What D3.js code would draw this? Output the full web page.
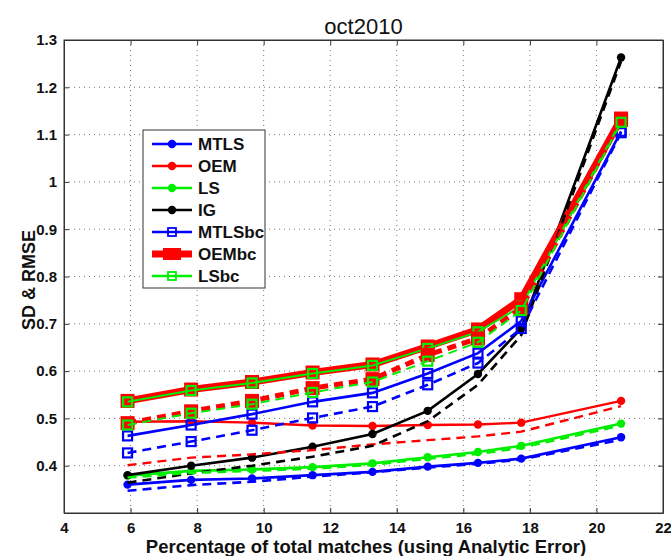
<!DOCTYPE html>
<html>
<head>
<meta charset="utf-8">
<script src="https://cdn.jsdelivr.net/npm/d3@7"></script>
<style>
  body { margin: 0; background: #fff; }
  svg text { font-family: "Liberation Sans", Arial, Helvetica, sans-serif; }
</style>
</head>
<body>
<div id="chart"></div>
<script>
// x positions (percentage of total matches)
const xPct = [5.91, 7.82, 9.65, 11.47, 13.27, 14.93, 16.44, 17.74, 20.74];

// SD (solid lines)
const mtls   = [0.360, 0.370, 0.373, 0.380, 0.387, 0.398, 0.406, 0.415, 0.460];
const oem    = [0.493, 0.494, 0.491, 0.485, 0.484, 0.486, 0.487, 0.491, 0.537];
const ls     = [0.379, 0.389, 0.392, 0.397, 0.405, 0.418, 0.429, 0.442, 0.489];
const ig     = [0.380, 0.400, 0.417, 0.440, 0.467, 0.516, 0.594, 0.690, 1.263];
const mtlsbc = [0.463, 0.486, 0.509, 0.535, 0.554, 0.595, 0.638, 0.706, 1.107];
const oembc  = [0.537, 0.561, 0.577, 0.597, 0.614, 0.652, 0.688, 0.752, 1.134];
const lsbc   = [0.535, 0.559, 0.575, 0.595, 0.612, 0.648, 0.683, 0.737, 1.129];

// RMSE (dashed lines)
const mtlsR   = [0.347, 0.359, 0.366, 0.377, 0.386, 0.396, 0.404, 0.413, 0.455];
const oemR    = [0.401, 0.417, 0.424, 0.433, 0.445, 0.454, 0.462, 0.472, 0.526];
const lsR     = [0.375, 0.385, 0.389, 0.394, 0.402, 0.415, 0.425, 0.438, 0.485];
const igR     = [0.364, 0.384, 0.400, 0.419, 0.442, 0.494, 0.571, 0.676, 1.255];
const mtlsbcR = [0.427, 0.451, 0.475, 0.501, 0.525, 0.571, 0.617, 0.690, 1.104];
const oembcR  = [0.490, 0.515, 0.537, 0.564, 0.583, 0.634, 0.669, 0.733, 1.131];
const lsbcR   = [0.486, 0.511, 0.530, 0.555, 0.577, 0.621, 0.661, 0.728, 1.126];

const xTicks = [4, 6, 8, 10, 12, 14, 16, 18, 20, 22];
const yTicks = [0.4, 0.5, 0.6, 0.7, 0.8, 0.9, 1, 1.1, 1.2, 1.3];
const legendNames = ["MTLS", "OEM", "LS", "IG", "MTLSbc", "OEMbc", "LSbc"];

// styles per series: colour, line width, marker
const styles = {
  MTLS:   {c: "#0000ff", w: 2.6, m: "circle"},
  OEM:    {c: "#ff0000", w: 2.4, m: "circle"},
  LS:     {c: "#00ee00", w: 2.6, m: "circle"},
  IG:     {c: "#000000", w: 2.6, m: "circle"},
  MTLSbc: {c: "#0000ff", w: 2.6, m: "square"},
  OEMbc:  {c: "#ff0000", w: 7,   m: "bigsquare"},
  LSbc:   {c: "#00ee00", w: 2,   m: "square"}
};

const solid = [["MTLS", mtls], ["OEM", oem], ["LS", ls], ["IG", ig],
               ["MTLSbc", mtlsbc], ["OEMbc", oembc], ["LSbc", lsbc]];
const dashed = [["OEM", oemR], ["IG", igR], ["MTLS", mtlsR], ["LS", lsR],
                ["MTLSbc", mtlsbcR], ["OEMbc", oembcR], ["LSbc", lsbcR]];

const W = 671, H = 556;
const margin = {top: 40, right: 8, bottom: 43, left: 64},
    width = W - margin.left - margin.right,
    height = H - margin.top - margin.bottom;

const svg = d3.select("#chart").append("svg")
    .attr("width", W).attr("height", H);
const g = svg.append("g")
    .attr("transform", `translate(${margin.left},${margin.top})`);

const x = d3.scaleLinear().domain([4, 22]).range([0, width]);
const y = d3.scaleLinear().domain([0.3, 1.3]).range([height, 0]);

// dotted grid
g.append("g").selectAll("line").data(xTicks.slice(1, -1)).join("line")
    .attr("x1", d => x(d)).attr("x2", d => x(d))
    .attr("y1", 0).attr("y2", height)
    .attr("stroke", "#777").attr("stroke-width", 1).attr("stroke-dasharray", "1,4");
g.append("g").selectAll("line").data(yTicks.slice(0, -1)).join("line")
    .attr("x1", 0).attr("x2", width)
    .attr("y1", d => y(d)).attr("y2", d => y(d))
    .attr("stroke", "#777").attr("stroke-width", 1).attr("stroke-dasharray", "1,4");

// axes (inward ticks on all four sides)
g.append("g").attr("transform", `translate(0,${height})`)
    .call(d3.axisBottom(x).tickValues(xTicks).tickSizeInner(-5).tickSizeOuter(0).tickPadding(9));
g.append("g")
    .call(d3.axisTop(x).tickValues(xTicks).tickSizeInner(-5).tickSizeOuter(0).tickFormat(""));
g.append("g")
    .call(d3.axisLeft(y).tickValues(yTicks).tickSizeInner(-5).tickSizeOuter(0).tickPadding(7)
      .tickFormat(d => d3.format("")(+d.toFixed(1))));
g.append("g").attr("transform", `translate(${width},0)`)
    .call(d3.axisRight(y).tickValues(yTicks).tickSizeInner(-5).tickSizeOuter(0).tickFormat(""));
g.selectAll(".domain").attr("stroke", "#333");
g.selectAll(".tick line").attr("stroke", "#333");
g.selectAll(".tick text")
    .attr("fill", "#111").style("font-size", "15px").style("font-weight", "bold");
// box
g.append("rect").attr("width", width).attr("height", height)
    .attr("fill", "none").attr("stroke", "#333").attr("stroke-width", 1);

const line = d3.line().x((d, i) => x(xPct[i])).y(d => y(d));

function drawMarkers(sel, st, pts) {
  if (st.m === "circle") {
    sel.selectAll("circle").data(pts).join("circle")
      .attr("cx", d => x(d[0])).attr("cy", d => y(d[1])).attr("r", 4.2)
      .attr("fill", st.c);
  } else if (st.m === "square") {
    sel.selectAll("rect").data(pts).join("rect")
      .attr("x", d => x(d[0]) - 4.5).attr("y", d => y(d[1]) - 4.5)
      .attr("width", 9).attr("height", 9)
      .attr("fill", "none").attr("stroke", st.c).attr("stroke-width", 2.2);
  } else {
    sel.selectAll("rect").data(pts).join("rect")
      .attr("x", d => x(d[0]) - 6).attr("y", d => y(d[1]) - 6)
      .attr("width", 12).attr("height", 12)
      .attr("fill", st.c).attr("stroke", st.c).attr("stroke-width", 2);
  }
}

function drawSeries(name, vals, dash) {
  const st = styles[name];
  const s = g.append("g");
  s.append("path").datum(vals)
    .attr("fill", "none").attr("stroke", st.c)
    .attr("stroke-width", dash && name === "OEMbc" ? 5 : st.w)
    .attr("stroke-dasharray", dash ? "9,6" : null)
    .attr("d", line);
  const pts = vals.map((v, i) => [xPct[i], v]);
  if (dash) {
    if (st.m !== "circle") drawMarkers(s, st, pts);
  } else {
    drawMarkers(s, st, pts);
  }
}

solid.forEach(d => drawSeries(d[0], d[1], false));
dashed.forEach(d => drawSeries(d[0], d[1], true));

// legend
const lg = svg.append("g").attr("transform", "translate(143,130)");
lg.append("rect").attr("width", 122).attr("height", 158)
    .attr("fill", "#fff").attr("stroke", "#333").attr("stroke-width", 1);
legendNames.forEach((name, i) => {
  const st = styles[name];
  const yy = 14 + i * 22;
  const row = lg.append("g").attr("transform", `translate(0,${yy})`);
  row.append("line").attr("x1", 9).attr("x2", 49).attr("y1", 0).attr("y2", 0)
    .attr("stroke", st.c).attr("stroke-width", name === "OEMbc" ? 7 : 2.6);
  if (st.m === "circle") {
    row.append("circle").attr("cx", 29).attr("cy", 0).attr("r", 4.2).attr("fill", st.c);
  } else if (st.m === "square") {
    row.append("rect").attr("x", 25).attr("y", -4).attr("width", 8).attr("height", 8)
      .attr("fill", "none").attr("stroke", st.c).attr("stroke-width", 1.8);
  } else {
    row.append("rect").attr("x", 20).attr("y", -6).attr("width", 18).attr("height", 12)
      .attr("fill", st.c);
  }
  row.append("text").attr("x", 55).attr("y", 0).attr("dy", "0.36em")
    .style("font-size", "17px").style("font-weight", "bold").attr("fill", "#111")
    .text(name);
});

// title and axis labels
svg.append("text").attr("x", margin.left + width / 2).attr("y", 34)
    .attr("text-anchor", "middle").style("font-size", "22px").attr("fill", "#111")
    .text("oct2010");
svg.append("text").attr("x", 366).attr("y", 553)
    .attr("text-anchor", "middle").style("font-size", "18.5px").style("font-weight", "bold")
    .attr("fill", "#111")
    .text("Percentage of total matches (using Analytic Error)");
svg.append("text").attr("transform", "translate(35,280) rotate(-90)")
    .attr("text-anchor", "middle").style("font-size", "18px").style("font-weight", "bold")
    .attr("fill", "#111")
    .text("SD & RMSE");
</script>
</body>
</html>
